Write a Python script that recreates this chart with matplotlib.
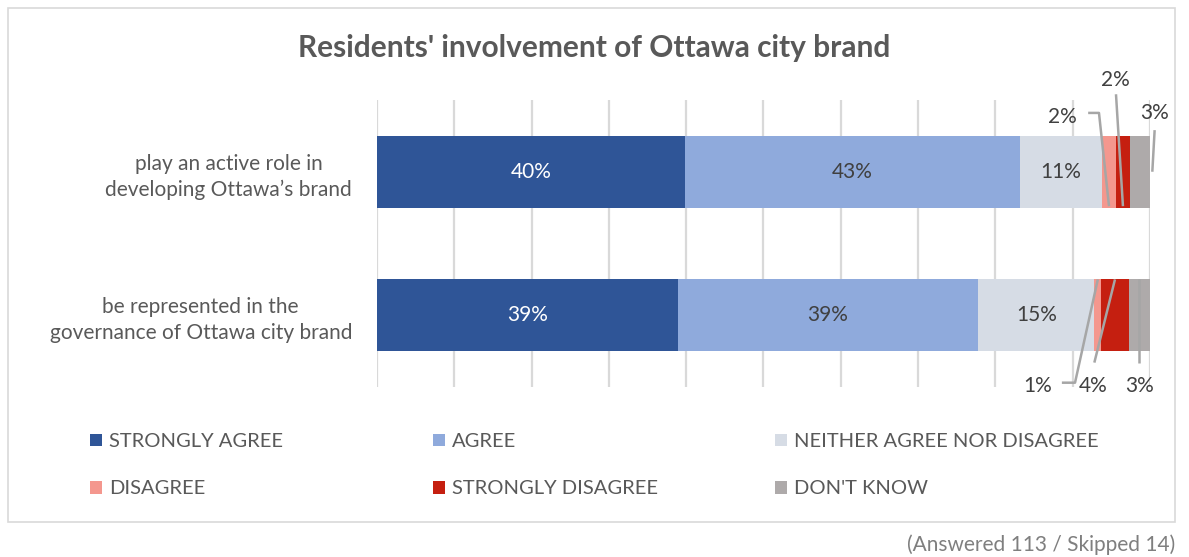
import matplotlib.pyplot as plt
from matplotlib.patches import Patch, Rectangle

plt.rcParams['font.family'] = ['Lato', 'DejaVu Sans']

statements = ["play an active role in\ndeveloping Ottawa\u2019s brand",
              "be represented in the\ngovernance of Ottawa city brand"]
responses = ["STRONGLY AGREE", "AGREE", "NEITHER AGREE NOR DISAGREE",
             "DISAGREE", "STRONGLY DISAGREE", "DON'T KNOW"]
# share of respondents (%) per response, one list per statement
active_role = [39.8, 43.4, 10.6, 1.8, 1.8, 2.7]
governance = [38.9, 38.9, 15.0, 0.9, 3.54, 2.7]
colors = ["#2F5597", "#8FAADC", "#D6DCE5", "#F4978E", "#C51F10", "#AEAAAA"]
label_colors = ["white", "#404040", "#404040", "#404040", "#404040", "#404040"]

title = "Residents' involvement of Ottawa city brand"
footnote = "(Answered 113 / Skipped 14)"

fig = plt.figure(figsize=(11.89, 5.57), dpi=100)
ax = fig.add_axes([377 / 1189, 1 - 387 / 557, 773 / 1189, 287 / 557])

# chart frame
fig.patches.append(Rectangle((8 / 1189, 1 - 522 / 557), 1167 / 1189, 514 / 557,
                             transform=fig.transFigure, fill=False,
                             edgecolor="#D9D9D9", linewidth=1.2))

rows = [active_role, governance]
ypos = [0, 1]
lefts = [0.0, 0.0]
small = {}  # (row, response) -> (left, width) of the thin slices
for i, resp in enumerate(responses):
    widths = [r[i] for r in rows]
    ax.barh(ypos, widths, left=lefts, height=0.5, color=colors[i],
            label=resp, zorder=2)
    for row, (w, l) in enumerate(zip(widths, lefts)):
        if w >= 5:
            ax.text(l + w / 2, row, f"{w:.0f}%", ha="center", va="center",
                    fontsize=15, color=label_colors[i], zorder=3)
        else:
            small[(row, i)] = (l, w)
    lefts = [l + w for l, w in zip(lefts, widths)]

gray = "#A6A6A6"


def callout(key, text_xy, pts):
    """Label a thin slice off to the side and join it with a leader line."""
    row, i = key
    l, w = small[key]
    mid = l + w / 2
    pts = [(mid if x is None else x, y) for x, y in pts]
    ax.plot([p[0] for p in pts], [p[1] for p in pts], color=gray, lw=1.8,
            clip_on=False, zorder=4, solid_capstyle="butt")
    ax.text(text_xy[0], text_xy[1], f"{rows[row][i]:.0f}%", ha="center",
            va="center", fontsize=15, color="#404040", clip_on=False)


# top bar
callout((0, 3), (88.7, -0.38), [(92.0, -0.41), (93.4, -0.41), (None, 0.24)])
callout((0, 4), (95.5, -0.64), [(95.6, -0.54), (None, 0.24)])
callout((0, 5), (100.6, -0.41), [(100.6, -0.29), (100.3, 0.0)])
# bottom bar
callout((1, 3), (85.4, 1.49), [(88.6, 1.47), (90.3, 1.47), (None, 0.75)])
callout((1, 4), (92.6, 1.49), [(92.8, 1.33), (None, 0.75)])
callout((1, 5), (98.7, 1.49), [(None, 1.33), (None, 0.75)])

ax.set_xlim(0, 100)
ax.set_ylim(1.5, -0.5)
ax.set_xticks(range(0, 101, 10))
ax.xaxis.grid(True, color="#D9D9D9", linewidth=1.6, zorder=0)
ax.set_axisbelow(True)
ax.tick_params(axis="both", length=0)
ax.set_xticklabels([])
ax.set_yticks(ypos)
ax.set_yticklabels(statements, fontsize=15, color="#595959",
                   multialignment="center", linespacing=1.35)
ax.tick_params(axis="y", pad=18)
for s in ax.spines.values():
    s.set_visible(False)

fig.text(594 / 1189, 1 - 48 / 557, title, ha="center", va="center",
         fontsize=21.5, fontweight="bold", color="#595959")
fig.text(1175 / 1189, 1 - 545 / 557, footnote, ha="right", va="center",
         fontsize=15, color="#7F7F7F")

# legend in three columns
col_x = [90, 433, 775]
for c, x in enumerate(col_x):
    idx = [c, c + 3]
    handles = [Patch(facecolor=colors[k]) for k in idx]
    fig.legend(handles, [responses[k] for k in idx], loc="upper left",
               bbox_to_anchor=(x / 1189, 1 - 433 / 557), frameon=False,
               fontsize=14.5, borderpad=0, borderaxespad=0,
               handlelength=0.6, handleheight=0.6, handletextpad=0.35,
               labelspacing=1.5, labelcolor="#595959")

fig.savefig("out.png", dpi=100)
